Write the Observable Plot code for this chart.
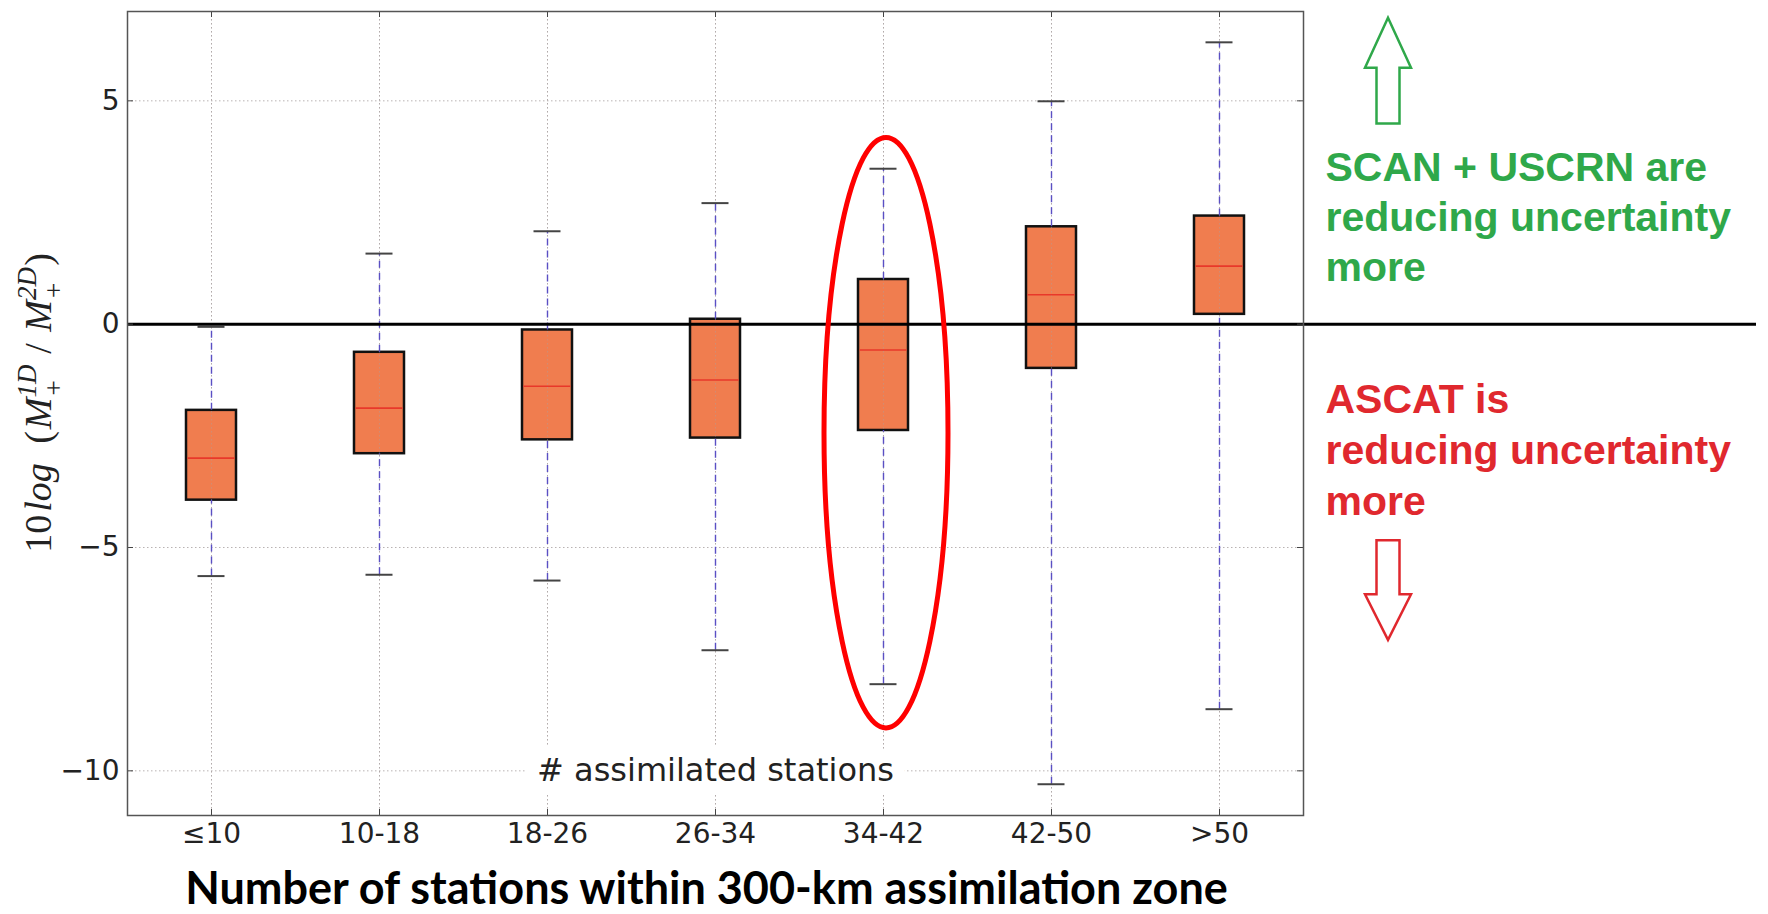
<!DOCTYPE html>
<html><head><meta charset="utf-8">
<script src="https://cdn.jsdelivr.net/npm/d3@7"></script>
<script src="https://cdn.jsdelivr.net/npm/@observablehq/plot@0.6"></script>
<style>
html,body{margin:0;padding:0;background:#fff;}
#chart svg{display:block;}
</style></head><body><div id="chart"></div>
<script>
// ---- data ----
const categories = ["≤10","10-18","18-26","26-34","34-42","42-50",">50"];
const whiskerLow  = [-5.64,-5.61,-5.74,-7.30,-8.06,-10.30,-8.62];
const q1          = [-3.94,-2.90,-2.59,-2.55,-2.38,-0.99,0.22];
const medians     = [-3.00,-1.88,-1.39,-1.25,-0.58,0.66,1.30];
const q3          = [-1.93,-0.63,-0.13,0.11,1.00,2.18,2.42];
const whiskerHigh = [-0.06,1.58,2.08,2.71,3.48,4.99,6.31];
const yTicks = [-10,-5,0,5];
const xTitle = "Number of stations within 300-km assimilation zone";
const insideLabel = "# assimilated stations";
const upText = "SCAN + USCRN are\nreducing uncertainty\nmore";
const downText = "ASCAT is\nreducing uncertainty\nmore";
const highlightCategory = "34-42";
const highlightRange = [-9.05, 4.17];
const upArrow = [4.48, 5.73, 6.85];     // tail, head base, tip (y values)
const downArrow = [-4.85, -6.06, -7.08];
const upTextY = 2.45, downTextY = -2.77, insideLabelY = -10;

const rows = categories.map((c,i)=>({cat:c, lo:whiskerLow[i], q1:q1[i], med:medians[i], q3:q3[i], hi:whiskerHigh[i]}));

const W = 1768, H = 914, mL = 127, mR = 465, mT = 11, mB = 99;
const fw = W - mL - mR, fh = H - mT - mB;
const bw = fw / categories.length;
const boxInset = (bw - 50) / 2, capInset = (bw - 27) / 2;
const gridStyle = {stroke: "#a8a0a0", strokeWidth: 1, strokeDasharray: "1.5,2.5", strokeOpacity: 0.8};

const plot = Plot.plot({
  width: W, height: H,
  marginLeft: mL, marginRight: mR, marginTop: mT, marginBottom: mB,
  style: {fontFamily: "DejaVu Sans", fontSize: "28px", color: "#222", background: "white"},
  x: {type: "band", domain: categories, padding: 0, label: null, tickSize: 0, tickPadding: 8},
  y: {domain: [-11, 7], ticks: yTicks, label: null, tickSize: 0, tickPadding: 8},
  marks: [
    Plot.ruleY(yTicks, {y: d => d, ...gridStyle}),
    Plot.ruleX(categories, {x: d => d, ...gridStyle}),
    Plot.barY(rows, {x: "cat", y1: "q1", y2: "q3", fill: "#f07d4f", stroke: "#111", strokeWidth: 2.5, insetLeft: boxInset, insetRight: boxInset}),
    Plot.ruleX(categories, {x: d => d, ...gridStyle, strokeOpacity: 0.45}),
    Plot.ruleX(rows, {x: "cat", y1: "q3", y2: "hi", stroke: "#5a4fc4", strokeWidth: 1.4, strokeDasharray: "7,5"}),
    Plot.ruleX(rows, {x: "cat", y1: "lo", y2: "q1", stroke: "#5a4fc4", strokeWidth: 1.4, strokeDasharray: "7,5"}),
    Plot.tickY(rows, {x: "cat", y: "hi", stroke: "#444", strokeWidth: 2, insetLeft: capInset, insetRight: capInset}),
    Plot.tickY(rows, {x: "cat", y: "lo", stroke: "#444", strokeWidth: 2, insetLeft: capInset, insetRight: capInset}),
    Plot.tickY(rows, {x: "cat", y: "med", stroke: "#e8382a", strokeWidth: 1.6, insetLeft: boxInset + 1.5, insetRight: boxInset + 1.5}),
    Plot.ruleY([0], {stroke: "#000", strokeWidth: 3, insetRight: -453}),
    // inward ticks
    Plot.tickY(yTicks, {y: d => d, stroke: "#444", insetRight: fw - 6}),
    Plot.tickY(yTicks, {y: d => d, stroke: "#444", insetLeft: fw - 6}),
    Plot.tickX(categories, {x: d => d, stroke: "#444", insetTop: fh - 6}),
    Plot.tickX(categories, {x: d => d, stroke: "#444", insetBottom: fh - 6}),
    Plot.frame({stroke: "#555", strokeWidth: 1.5}),
    Plot.text([insideLabel], {y: () => insideLabelY, text: d => d, frameAnchor: "middle", fontSize: 32, fill: "#222", stroke: "white", strokeWidth: 26, strokeLinejoin: "round"}),
    Plot.text([upText], {y: () => upTextY, text: d => d, frameAnchor: "right", dx: 22, textAnchor: "start", lineAnchor: "middle", lineHeight: 1.22, fontSize: 41, fontWeight: "bold", fontFamily: "Liberation Sans, Arial, sans-serif", fill: "#2fa84a"}),
    Plot.text([downText], {y: () => downTextY, text: d => d, frameAnchor: "right", dx: 22, textAnchor: "start", lineAnchor: "middle", lineHeight: 1.24, fontSize: 41, fontWeight: "bold", fontFamily: "Liberation Sans, Arial, sans-serif", fill: "#e0282e"}),
    Plot.text([xTitle], {text: d => d, frameAnchor: "bottom", lineAnchor: "middle", dy: 74, dx: -9, fontSize: 45, fontWeight: "bold", fontFamily: "Lato, sans-serif", fill: "#000"})
  ]
});
document.getElementById("chart").appendChild(plot);

// ---- annotations via library scales ----
const sx = plot.scale("x"), sy = plot.scale("y");
const svg = d3.select(plot);
const cxH = sx.apply(highlightCategory) + sx.bandwidth / 2 + 3;
const yTop = sy.apply(highlightRange[1]), yBot = sy.apply(highlightRange[0]);
svg.append("ellipse").attr("cx", cxH).attr("cy", (yTop + yBot) / 2).attr("rx", 62).attr("ry", (yBot - yTop) / 2)
  .attr("fill", "none").attr("stroke", "#ff0000").attr("stroke-width", 5);

const arrowX = W - mR + 85;
function arrowPath(vals) {
  const [tail, base, tip] = vals.map(v => sy.apply(v));
  const h = 23, s = 11.5;
  return `M${arrowX},${tip}L${arrowX + h},${base}L${arrowX + s},${base}L${arrowX + s},${tail}L${arrowX - s},${tail}L${arrowX - s},${base}L${arrowX - h},${base}Z`;
}
svg.append("path").attr("d", arrowPath(upArrow)).attr("fill", "none").attr("stroke", "#2fa84a").attr("stroke-width", 2.5).attr("stroke-linejoin", "miter");
svg.append("path").attr("d", arrowPath(downArrow)).attr("fill", "none").attr("stroke", "#e0282e").attr("stroke-width", 2.5).attr("stroke-linejoin", "miter");

// y-axis label (math style)
const ycenter = (sy.apply(-11) + sy.apply(7)) / 2 - 10;
const yl = svg.append("text").attr("transform", `translate(51,${ycenter}) rotate(-90)`)
  .attr("text-anchor", "middle").attr("font-family", "Liberation Serif, DejaVu Serif, serif").attr("font-size", 38).attr("fill", "#222");
yl.append("tspan").text("10");
yl.append("tspan").attr("font-style", "italic").attr("dx", 3).text("log");
yl.append("tspan").attr("dx", 10).text(" (");
yl.append("tspan").attr("font-style", "italic").attr("dx", 2).text("M");
yl.append("tspan").attr("font-style", "italic").attr("font-size", 27).attr("dy", -15).text("1D");
yl.append("tspan").attr("font-size", 27).attr("dx", -31).attr("dy", 27).text("+");
yl.append("tspan").attr("dx", 17).attr("dy", -12).text(" / ");
yl.append("tspan").attr("font-style", "italic").attr("dx", 2).text("M");
yl.append("tspan").attr("font-style", "italic").attr("font-size", 27).attr("dy", -15).text("2D");
yl.append("tspan").attr("font-size", 27).attr("dx", -31).attr("dy", 27).text("+");
yl.append("tspan").attr("dx", 17).attr("dy", -12).text(")");
</script></body></html>
